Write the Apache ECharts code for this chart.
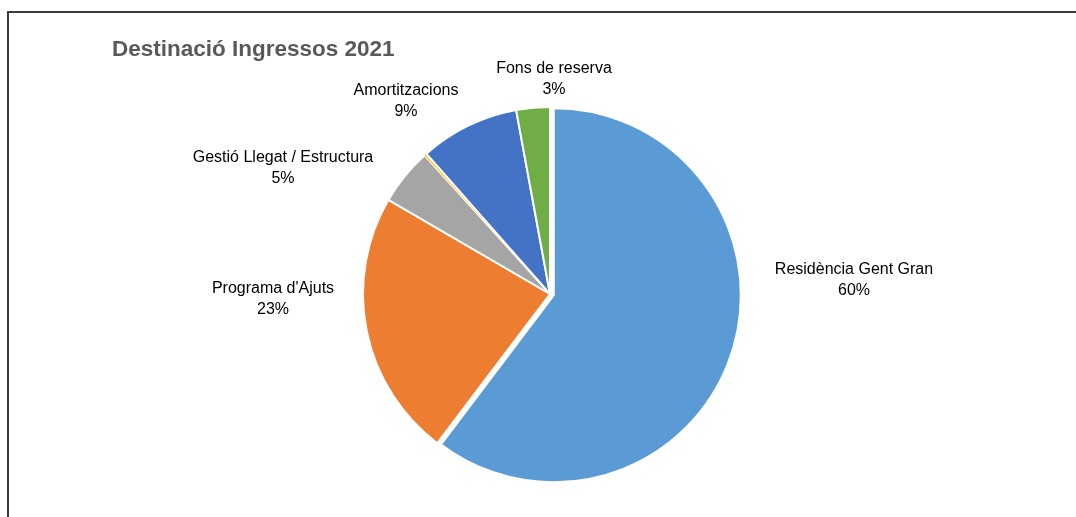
<!DOCTYPE html>
<html>
<head>
<meta charset="utf-8">
<script src="https://cdn.jsdelivr.net/npm/echarts@6/dist/echarts.min.js"></script>
<style>
  html, body { margin: 0; padding: 0; background: #fff; }
  #chart { width: 1076px; height: 517px; }
</style>
</head>
<body>
<div id="chart"></div>
<script>
// dades del gràfic
const categories = ['Residència Gent Gran', "Programa d'Ajuts", 'Gestió Llegat / Estructura', 'Altres', 'Amortitzacions', 'Fons de reserva']
const values = [60.3, 23.1, 4.9, 0.2, 8.6, 2.9]
const colors = ['#5B9BD5', '#ED7D31', '#A5A5A5', '#FFC000', '#4472C4', '#70AD47']
const showLabel = [true, true, true, false, true, true]
const exploded = 0 // porció separada del pastís

// posició de les etiquetes respecte al centre del pastís (com l'"ajust òptim" d'Excel)
const labelOffsets = [[304, -14], [-277, 5], [-267, -126], [0, 0], [-144, -193], [4, -215]]
const pieCenter = [550, 294]
const explodeDist = 4

// direcció de la bisectriu de la porció separada (des de dalt, sentit horari)
const total = values.reduce((a, b) => a + b, 0)
const before = values.slice(0, exploded).reduce((a, b) => a + b, 0)
const midAngle = (before + values[exploded] / 2) / total * Math.PI * 2
const shiftedCenter = [
  pieCenter[0] + explodeDist * Math.sin(midAngle),
  pieCenter[1] - explodeDist * Math.cos(midAngle)
]

const chart = echarts.init(document.getElementById('chart'), null, { renderer: 'canvas' })

const baseSeries = {
  type: 'pie',
  radius: 187,
  startAngle: 90,
  clockwise: true,
  selectedMode: false,
  avoidLabelOverlap: false,
  emphasis: { disabled: true },
  itemStyle: { borderColor: '#fff', borderWidth: 2 },
  labelLine: { show: false }
}

const option = {
  animation: false,
  backgroundColor: '#fff',
  title: {
    text: 'Destinació Ingressos 2021',
    left: 107,
    top: 33,
    textStyle: {
      fontFamily: 'Liberation Sans',
      fontWeight: 'bold',
      fontSize: 22.5,
      color: '#595959'
    }
  },
  graphic: [
    {
      type: 'rect',
      shape: { x: 8, y: 12, width: 1200, height: 700 },
      style: { fill: 'none', stroke: '#3a3a3a', lineWidth: 2 },
      silent: true
    }
  ],
  series: [
    Object.assign({}, baseSeries, {
      center: pieCenter,
      label: {
        show: true,
        position: 'outside',
        fontFamily: 'Liberation Sans',
        fontSize: 16,
        lineHeight: 21,
        color: '#000',
        formatter: (p) => p.name + '\n' + Math.round(p.percent) + '%'
      },
      labelLayout: (params) => {
        const off = labelOffsets[params.dataIndex]
        return {
          x: pieCenter[0] + off[0],
          y: pieCenter[1] + off[1],
          align: 'center',
          verticalAlign: 'middle'
        }
      },
      data: categories.map((name, i) => ({
        name: name,
        value: values[i],
        itemStyle: i === exploded
          ? { color: 'rgba(0,0,0,0)', borderWidth: 0 }
          : (i === 3 ? { color: colors[i], borderWidth: 0 } : { color: colors[i] }),
        label: { show: showLabel[i] }
      }))
    }),
    // la porció separada, desplaçada al llarg de la bisectriu
    Object.assign({}, baseSeries, {
      center: shiftedCenter,
      silent: true,
      label: { show: false },
      data: categories.map((name, i) => ({
        name: name,
        value: values[i],
        itemStyle: i === exploded
          ? { color: colors[i] }
          : { color: 'rgba(0,0,0,0)', borderWidth: 0 }
      }))
    })
  ]
}

chart.setOption(option)
</script>
</body>
</html>
